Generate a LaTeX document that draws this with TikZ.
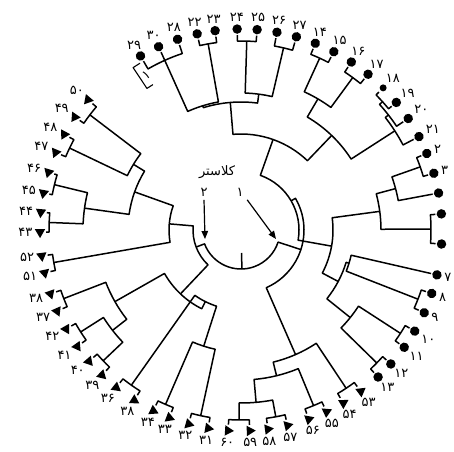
\documentclass[tikz,border=0pt]{standalone}
\usepackage{fontspec}
\usetikzlibrary{shapes.geometric,arrows.meta}
\newfontfamily\fafont[Script=Arabic]{DejaVu Sans}
\TeXXeTstate=1
%% join two branches: angle1, radius1, angle2, radius2, join radius
\newcommand\brjoin[5]{%
  \draw[tree] (#1:#2) -- (#1:#5) arc[start angle=#1, end angle=#3, radius=#5] -- (#3:#4);}

\begin{document}
\begin{tikzpicture}[x=1pt, y=1pt,
  tree/.style   ={line width=1.5pt, line join=round},
  dot/.style    ={circle, fill, inner sep=0pt, minimum size=9.5pt},
  sdot/.style   ={circle, fill, inner sep=0pt, minimum size=7pt},
  tri/.style    ={regular polygon, regular polygon sides=3, fill,
                  inner sep=0pt, minimum size=12pt},
  leaflbl/.style={font=\fafont\fontsize{13}{14}\selectfont, inner sep=0.5pt},
  ptr/.style    ={-{Triangle[length=8pt,width=6.5pt]}, line width=1.2pt},
]
\useasboundingbox (0,0) rectangle (454,451);
\clip (0,0) rectangle (454,451);

\begin{scope}[shift={(241,221)}]

%% ── leaves (labels of 4, 5, 6 fall outside the frame) ──
\foreach \ang/\id/\lab/\kind in {
   120/29/۲۹/dot, 114.2/30/۳۰/dot, 108.4/28/۲۸/dot, 102.6/22/۲۲/dot,
   97.4/23/۲۳/dot, 91.1/24/۲۴/dot, 85.4/25/۲۵/dot, 79.7/26/۲۶/dot,
   74.0/27/۲۷/dot, 68.3/14/۱۴/dot, 62.5/15/۱۵/dot, 56.7/16/۱۶/dot,
   50.8/17/۱۷/dot, 45.0/18/۱۸/sdot, 39.4/19/۱۹/dot, 33.7/20/۲۰/dot,
   27.7/21/۲۱/dot, 22.4/2/۲/dot, 16.4/3/۳/dot, 10.6/4//dot,
   4.6/5//dot, -4.0/6//dot, -12.9/7/۷/dot, -18.4/8/۸/dot,
   -24.3/9/۹/dot, -30.2/10/۱۰/dot, -35.7/11/۱۱/dot, -41.8/12/۱۲/dot,
   -47.0/13/۱۳/dot,
   -53.4/53/۵۳/tri, -59.4/54/۵۴/tri, -64.8/55/۵۵/tri, -70.3/56/۵۶/tri,
   -76.6/57/۵۷/tri, -82.3/58/۵۸/tri, -87.5/59/۵۹/tri, -93.7/60/۶۰/tri,
   -99.4/31/۳۱/tri, -105.1/32/۳۲/tri, -110.9/33/۳۳/tri, -115.9/34/۳۴/tri,
   -122.1/35/۳۸/tri, -128.4/36/۳۶/tri, -133.8/39/۳۹/tri, -139.2/40/۴۰/tri,
   -144.6/41/۴۱/tri, -150.5/42/۴۲/tri, -156.2/37/۳۷/tri, -161.5/38/۳۸/tri,
   -167.7/51/۵۱/tri, -172.6/52/۵۲/tri, -179.4/43/۴۳/tri, -185.1/44/۴۴/tri,
   -190.6/45/۴۵/tri, -196.7/46/۴۶/tri, -202.7/47/۴۷/tri, -208.4/48/۴۸/tri,
   -214.2/49/۴۹/tri, -220.4/50/۵۰/tri}
{
  \pgfmathsetmacro\opp{\ang+180}
  \node[\kind, rotate=\ang] (l\id) at (\ang:201) {};
  \node[leaflbl, anchor=\opp] (t\id) at (\ang:208) {\lab};
}

%% leaf 1: bracket
\draw[tree, line width=1.1pt] (121.2:195) -- (123.6:195) -- (123.6:170) -- (121.2:170);
\node[leaflbl, rotate=33] (t1) at (121.4:182) {۱};

%% ── cluster 1: top ─────────────────────────────────────
\brjoin{120}{195}{108.4}{195}{186}
\draw[tree] (114.2:195) -- (114.2:186);
\brjoin{102.6}{195}{97.4}{195}{189}
\brjoin{114.2}{186}{100}{189}{130}
\brjoin{91.1}{195}{85.4}{195}{189}
\brjoin{79.7}{195}{74.0}{195}{187}
\brjoin{88.25}{189}{76.85}{187}{137}
\brjoin{107.1}{130}{82.55}{137}{128}
%% top right
\brjoin{68.3}{195}{62.5}{195}{189}
\brjoin{56.7}{195}{50.8}{195}{189}
\brjoin{65.4}{189}{53.75}{189}{152}
\brjoin{45.0}{195}{39.4}{195}{191}
\brjoin{42.2}{191}{33.7}{195}{187}
\brjoin{37.95}{187}{27.7}{195}{183}
\brjoin{59.6}{152}{32.8}{183}{131}
\brjoin{94.8}{128}{46.2}{131}{96}
%% right
\brjoin{22.4}{195}{16.4}{195}{190}
\brjoin{19.4}{190}{10.6}{195}{160}
\brjoin{4.6}{195}{-4.0}{195}{190}
\brjoin{15}{160}{0.3}{190}{140}
\brjoin{-18.4}{195}{-24.3}{195}{190}
\brjoin{-12.9}{195}{-21.35}{190}{113}
\brjoin{-30.2}{195}{-35.7}{195}{190}
\brjoin{-41.8}{195}{-47.0}{195}{190}
\brjoin{-32.95}{190}{-44.4}{190}{140}
\brjoin{-17.1}{113}{-38.7}{140}{110}
\brjoin{7.65}{140}{-27.9}{110}{92}
%% bottom right
\brjoin{-87.5}{195}{-93.7}{195}{190}
\brjoin{-76.6}{195}{-82.3}{195}{190}
\brjoin{-90.6}{190}{-79.45}{190}{173}
\brjoin{-64.8}{195}{-70.3}{195}{190}
\brjoin{-85.0}{173}{-67.55}{190}{150}
\brjoin{-53.4}{195}{-59.4}{195}{190}
\brjoin{-76.3}{150}{-56.4}{190}{136}
%% cluster 1 arcs
\brjoin{70.5}{96}{-10.1}{92}{58}
\brjoin{30.2}{58}{-66.35}{136}{63}

%% ── cluster 2 ──────────────────────────────────────────
\brjoin{-99.4}{195}{-105.1}{195}{190}
\brjoin{-110.9}{195}{-115.9}{195}{190}
\brjoin{-102.25}{190}{-113.4}{190}{122}
\brjoin{-122.1}{195}{-128.4}{195}{190}
\brjoin{-107.8}{122}{-125.25}{190}{80}
\brjoin{-133.8}{195}{-139.2}{195}{190}
\brjoin{-144.6}{195}{-150.5}{195}{190}
\brjoin{-136.5}{190}{-147.55}{190}{163}
\brjoin{-156.2}{195}{-161.5}{195}{190}
\brjoin{-142.0}{163}{-158.85}{190}{145}
\brjoin{-150.4}{145}{-116.5}{80}{88}
\brjoin{-167.7}{195}{-172.6}{195}{190}
\brjoin{-179.4}{195}{-185.1}{195}{192}
\brjoin{-190.6}{195}{-196.7}{195}{192}
\brjoin{-182.25}{192}{-193.65}{192}{158}
\brjoin{-202.7}{195}{-208.4}{195}{190}
\brjoin{-214.2}{195}{-220.4}{195}{190}
\brjoin{-205.55}{190}{-217.3}{190}{126}
\brjoin{-187.95}{158}{-211.4}{126}{113}
\brjoin{-199.7}{113}{-170.15}{190}{72}
\brjoin{-184.9}{72}{-133.45}{88}{48}

%% ── root ───────────────────────────────────────────────
\brjoin{-159.2}{48}{-18.1}{63}{39}
\draw[tree] (-88.65:39) -- (-88.65:23);

%% ── cluster labels ─────────────────────────────────────
\node[font=\fafont\fontsize{13}{14}\selectfont] (cltitle) at (-24,58) {\beginR کلاستر\endR};
\node[leaflbl] (cltwo) at (-37,38) {۲};
\node[leaflbl] (clone) at (-1,38) {۱};
\coordinate (tiptwo) at (-36,-9);
\coordinate (tipone) at (35,-9);
\draw[ptr] (cltwo.south) ++(0,-3) -- (tiptwo);
\draw[ptr] (clone.south east) ++(3,-3) -- (tipone);

\end{scope}
\end{tikzpicture}
\end{document}
